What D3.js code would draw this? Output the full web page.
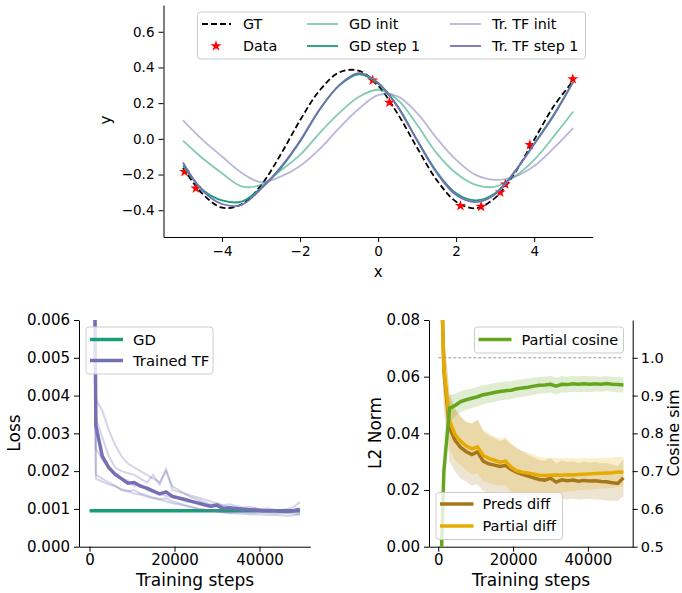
<!DOCTYPE html>
<html>
<head>
<meta charset="utf-8">
<script src="https://cdn.jsdelivr.net/npm/d3@7"></script>
<style>
  body { margin: 0; background: #fff; }
  svg { display: block; font-family: "DejaVu Sans", sans-serif; }
</style>
</head>
<body>
<script>
// ---- top panel: regression curves ----
const topX = [-5, -4.5, -4, -3.5, -3, -2.5, -2, -1.5, -1, -0.5, 0, 0.5, 1, 1.5, 2, 2.5, 3, 3.5, 4, 4.5, 5];
const gtY     = [-0.163, -0.308, -0.385, -0.367, -0.26, -0.089, 0.104, 0.271, 0.372, 0.382, 0.298, 0.141, -0.05, -0.23, -0.352, -0.389, -0.331, -0.192, -0.005, 0.182, 0.325];
const gdInit  = [-0.01, -0.109, -0.193, -0.266, -0.258, -0.178, -0.09, 0.032, 0.144, 0.234, 0.275, 0.219, 0.079, -0.08, -0.193, -0.258, -0.268, -0.212, -0.118, 0.013, 0.153];
const gdStep1 = [-0.15, -0.285, -0.345, -0.352, -0.275, -0.165, -0.015, 0.163, 0.298, 0.362, 0.31, 0.182, -0.006, -0.184, -0.305, -0.345, -0.305, -0.184, -0.028, 0.135, 0.322];
const tfInit  = [0.103, -0.006, -0.099, -0.19, -0.243, -0.212, -0.152, -0.058, 0.06, 0.167, 0.245, 0.238, 0.144, 0.004, -0.118, -0.202, -0.23, -0.212, -0.152, -0.052, 0.06];
const tfStep1 = [-0.133, -0.29, -0.365, -0.37, -0.28, -0.16, -0.01, 0.165, 0.3, 0.368, 0.315, 0.18, -0.01, -0.19, -0.315, -0.355, -0.31, -0.185, -0.03, 0.13, 0.318];
const dataX = [-4.96, -4.67, -0.14, 0.29, 2.11, 2.64, 3.13, 3.26, 3.89, 4.99];
const dataY = [-0.184, -0.277, 0.328, 0.204, -0.375, -0.38, -0.3, -0.255, -0.034, 0.335];
const topXTicks = [-4, -2, 0, 2, 4];
const topYTicks = [-0.4, -0.2, 0.0, 0.2, 0.4, 0.6];

// ---- bottom panels: training curves ----
const steps = [0, 1500, 3000, 4500, 6000, 7500, 9000, 10500, 12000, 13500, 15000, 16500, 18000, 19500, 21000, 22500, 24000,
  25500, 27000, 28500, 30000, 31500, 33000, 34500, 36000, 37500, 39000, 40500, 42000, 43500, 45000, 46500, 48000, 49500];
const gdLoss = 0.00095;
const tfLoss = [0.024, 0.0032, 0.0024, 0.0021, 0.00192, 0.0018, 0.00168, 0.0017, 0.0016, 0.00155, 0.00147, 0.0014, 0.00145, 0.00133,
  0.00129, 0.00125, 0.0012, 0.00116, 0.00111, 0.00107, 0.0011, 0.00101, 0.00103, 0.00101, 0.00099, 0.00098, 0.00097, 0.00096,
  0.00095, 0.00095, 0.00094, 0.00094, 0.00095, 0.00099];
const tfSeeds = [
  [0.03, 0.0039, 0.0036, 0.0031, 0.0027, 0.0024, 0.0022, 0.0021, 0.002, 0.0019, 0.0018, 0.0017, 0.002, 0.0016, 0.0015, 0.0014, 0.00135,
   0.0013, 0.00125, 0.0012, 0.00115, 0.0011, 0.00112, 0.00108, 0.00104, 0.00106, 0.00101, 0.00099, 0.00102, 0.00098, 0.00097, 0.001, 0.00105, 0.00118],
  [0.02, 0.0018, 0.00172, 0.00165, 0.0016, 0.00152, 0.00148, 0.0014, 0.00138, 0.00132, 0.00128, 0.00125, 0.0012, 0.00115, 0.00112,
   0.00108, 0.00104, 0.001, 0.00098, 0.00096, 0.00093, 0.0009, 0.00089, 0.00088, 0.00087, 0.00086, 0.00085, 0.00085, 0.00084, 0.00084, 0.00083, 0.00082, 0.00083, 0.00085],
  [0.025, 0.0026, 0.0023, 0.0021, 0.0019, 0.0018, 0.00175, 0.0016, 0.00165, 0.0015, 0.00145, 0.0014, 0.00135, 0.0013, 0.00128, 0.0012,
   0.00118, 0.00112, 0.0011, 0.00106, 0.00105, 0.001, 0.00099, 0.00098, 0.00101, 0.00097, 0.00095, 0.00094, 0.00092, 0.00093, 0.00091, 0.0009, 0.00092, 0.0009],
  [0.022, 0.0034, 0.0029, 0.0024, 0.0021, 0.002, 0.00195, 0.0019, 0.0018, 0.0017, 0.0019, 0.00165, 0.00205, 0.0015, 0.00145, 0.0014,
   0.0013, 0.00125, 0.00118, 0.00112, 0.00113, 0.00108, 0.00104, 0.001, 0.00103, 0.001, 0.00102, 0.00098, 0.00096, 0.00095, 0.00094, 0.00093, 0.00095, 0.00097],
  [0.02, 0.0019, 0.0018, 0.0017, 0.00162, 0.0015, 0.00146, 0.0015, 0.0014, 0.00136, 0.0013, 0.00126, 0.00128, 0.0012, 0.00115, 0.0011,
   0.00106, 0.00101, 0.00098, 0.00097, 0.00094, 0.00092, 0.0009, 0.00091, 0.00092, 0.0009, 0.00089, 0.00091, 0.0009, 0.00088, 0.00089, 0.0009, 0.00088, 0.00086]
];
const predsDiff = [0.137, 0.062, 0.042, 0.0375, 0.035, 0.0335, 0.0325, 0.0335, 0.0302, 0.0292, 0.0288, 0.0283, 0.0287, 0.0272, 0.0262,
  0.0255, 0.0249, 0.0243, 0.0237, 0.0235, 0.0242, 0.0228, 0.0236, 0.0233, 0.0235, 0.0231, 0.0234, 0.0232, 0.0233, 0.023, 0.0229, 0.0226, 0.0223, 0.0243];
const predsStd = [0.03, 0.014, 0.012, 0.011, 0.011, 0.0105, 0.011, 0.0115, 0.0105, 0.01, 0.0095, 0.009, 0.0092, 0.0088, 0.0085, 0.0082,
  0.0075, 0.0072, 0.007, 0.0068, 0.0072, 0.0065, 0.0068, 0.0066, 0.0066, 0.0064, 0.0066, 0.0064, 0.0066, 0.0064, 0.0066, 0.0064, 0.0062, 0.0065];
const partialDiff = [0.137, 0.063, 0.0445, 0.0395, 0.0372, 0.0355, 0.0345, 0.0352, 0.0322, 0.0312, 0.0305, 0.0298, 0.0302, 0.028, 0.0268,
  0.0263, 0.026, 0.0256, 0.0252, 0.0251, 0.0252, 0.0253, 0.0252, 0.0254, 0.0253, 0.0255, 0.0256, 0.0257, 0.0258, 0.0259, 0.026, 0.0261, 0.0264, 0.0263];
const partialStd = [0.025, 0.012, 0.01, 0.009, 0.0085, 0.0085, 0.009, 0.0095, 0.009, 0.0088, 0.0085, 0.0082, 0.0085, 0.0085, 0.008, 0.0075,
  0.0072, 0.0068, 0.0065, 0.0062, 0.0062, 0.006, 0.006, 0.0058, 0.0058, 0.0056, 0.0056, 0.0055, 0.0055, 0.0054, 0.0054, 0.0054, 0.0053, 0.0052];
const partialCos = [0.2, 0.7, 0.866, 0.874, 0.884, 0.889, 0.893, 0.897, 0.902, 0.905, 0.908, 0.911, 0.913, 0.914, 0.918, 0.92, 0.922,
  0.925, 0.927, 0.928, 0.93, 0.925, 0.93, 0.929, 0.931, 0.93, 0.931, 0.93, 0.931, 0.93, 0.932, 0.93, 0.929, 0.928];
const cosStd = [0.05, 0.04, 0.035, 0.03, 0.028, 0.027, 0.026, 0.026, 0.025, 0.025, 0.025, 0.024, 0.024, 0.024, 0.023, 0.023, 0.023,
  0.023, 0.022, 0.022, 0.022, 0.022, 0.022, 0.021, 0.021, 0.021, 0.021, 0.021, 0.02, 0.02, 0.02, 0.02, 0.02, 0.02];
const stepTicks = [0, 20000, 40000];
const lossTicks = [0, 0.001, 0.002, 0.003, 0.004, 0.005, 0.006];
const normTicks = [0, 0.02, 0.04, 0.06, 0.08];
const cosTicks = [0.5, 0.6, 0.7, 0.8, 0.9, 1.0];

const C = { teal: '#1b9e77', purple: '#7570b3', green: '#66a61e', brown: '#a6761d', yellow: '#e6ab02', red: '#ff0000' };
const FONT = '"DejaVu Sans", sans-serif';

const svg = d3.select('body').append('svg').attr('width', 682).attr('height', 593);

function styleAxis (g, fs) {
  g.attr('font-family', FONT).attr('font-size', fs);
  g.selectAll('.domain').attr('stroke', '#000').attr('stroke-width', 1);
  g.selectAll('.tick line').attr('stroke', '#000').attr('stroke-width', 1);
  g.selectAll('.tick text').attr('fill', '#000');
  return g;
}

function legendBox (g, x, y, w, h) {
  g.append('rect').attr('x', x).attr('y', y).attr('width', w).attr('height', h).attr('rx', 3)
    .attr('fill', '#fff').attr('fill-opacity', 0.8).attr('stroke', '#ccc').attr('stroke-width', 1);
}

function legendLine (g, x0, x1, y, tx, label, color, lw, opts = {}) {
  g.append('line').attr('x1', x0).attr('x2', x1).attr('y1', y).attr('y2', y)
    .attr('stroke', color).attr('stroke-width', lw)
    .attr('stroke-opacity', opts.opacity || 1)
    .attr('stroke-dasharray', opts.dash || null);
  g.append('text').attr('x', tx).attr('y', y).attr('dy', '0.35em')
    .attr('font-size', opts.fs).attr('fill', '#000').text(label);
}

// ================= TOP PANEL =================
{
  const x = d3.scaleLinear().domain([-5.5, 5.5]).range([163.5, 592.7]);
  const y = d3.scaleLinear().domain([-0.55, 0.75]).range([237, 5]);
  const g = svg.append('g');

  styleAxis(g.append('g').attr('transform', 'translate(0,237)')
    .call(d3.axisBottom(x).tickValues(topXTicks).tickFormat(d3.format('d')).tickSize(5).tickSizeOuter(0).tickPadding(4)), 13.5);
  styleAxis(g.append('g').attr('transform', 'translate(163.5,0)')
    .call(d3.axisLeft(y).tickValues(topYTicks).tickFormat(d3.format('.1f')).tickSize(5).tickSizeOuter(0).tickPadding(4)), 13.5);

  g.append('text').attr('x', x(0)).attr('y', 277).attr('text-anchor', 'middle')
    .attr('font-size', 15).text('x');
  g.append('text').attr('transform', 'translate(111,120) rotate(-90)').attr('text-anchor', 'middle')
    .attr('font-size', 15).text('y');

  const line = vals => d3.line().x((d, i) => x(topX[i])).y(d => y(d)).curve(d3.curveCatmullRom.alpha(0.5))(vals);

  g.append('path').attr('d', line(gtY)).attr('fill', 'none').attr('stroke', '#000')
    .attr('stroke-width', 1.8).attr('stroke-dasharray', '6,3');

  g.selectAll('.star').data(dataX).join('path').attr('class', 'star')
    .attr('transform', (d, i) => `translate(${x(d)},${y(dataY[i])})`)
    .attr('d', d3.symbol(d3.symbolStar, 38)).attr('fill', C.red);

  const series = [
    [gdInit, C.teal, 0.55],
    [gdStep1, C.teal, 1],
    [tfInit, C.purple, 0.5],
    [tfStep1, C.purple, 1]
  ];
  series.forEach(([vals, col, op]) => {
    g.append('path').attr('d', line(vals)).attr('fill', 'none').attr('stroke', col)
      .attr('stroke-opacity', op).attr('stroke-width', 1.8);
  });

  // legend
  const lg = g.append('g').attr('font-family', FONT);
  legendBox(lg, 197.5, 12, 388, 47);
  legendLine(lg, 202, 231, 24, 243, 'GT', '#000', 1.8, { dash: '6,3', fs: 14.3 });
  lg.append('path').attr('transform', 'translate(216,46)').attr('d', d3.symbol(d3.symbolStar, 38)).attr('fill', C.red);
  lg.append('text').attr('x', 243).attr('y', 46).attr('dy', '0.35em').attr('font-size', 14.3).text('Data');
  legendLine(lg, 307, 338, 24, 349, 'GD init', C.teal, 1.8, { opacity: 0.55, fs: 14.3 });
  legendLine(lg, 307, 338, 46, 349, 'GD step 1', C.teal, 1.8, { fs: 14.3 });
  legendLine(lg, 450, 481, 24, 492, 'Tr. TF init', C.purple, 1.8, { opacity: 0.5, fs: 14.3 });
  legendLine(lg, 450, 481, 46, 492, 'Tr. TF step 1', C.purple, 1.8, { fs: 14.3 });
}

// ================= BOTTOM LEFT =================
{
  const x = d3.scaleLinear().domain([-2475, 51975]).range([79, 310.4]);
  const y = d3.scaleLinear().domain([0, 0.006]).range([546.7, 320]);
  const g = svg.append('g');

  g.append('clipPath').attr('id', 'clipL').append('rect')
    .attr('x', 79).attr('y', 320).attr('width', 231.4).attr('height', 226.7);

  styleAxis(g.append('g').attr('transform', 'translate(0,546.7)')
    .call(d3.axisBottom(x).tickValues(stepTicks).tickFormat(d3.format('d')).tickSize(5).tickSizeOuter(0).tickPadding(3)), 15);
  styleAxis(g.append('g').attr('transform', 'translate(79,0)')
    .call(d3.axisLeft(y).tickValues(lossTicks).tickFormat(d3.format('.3f')).tickSize(5).tickSizeOuter(0).tickPadding(4)), 15);

  g.append('text').attr('x', 195).attr('y', 586).attr('text-anchor', 'middle').attr('font-size', 17).text('Training steps');
  g.append('text').attr('transform', 'translate(20,433) rotate(-90)').attr('text-anchor', 'middle')
    .attr('font-size', 17).text('Loss');

  const plot = g.append('g').attr('clip-path', 'url(#clipL)');
  const line = d3.line().x((d, i) => x(steps[i])).y(d => y(d));

  plot.append('line').attr('x1', x(steps[0])).attr('x2', x(steps[steps.length - 1]))
    .attr('y1', y(gdLoss)).attr('y2', y(gdLoss)).attr('stroke', C.teal).attr('stroke-width', 3.5);
  tfSeeds.forEach(s => {
    plot.append('path').attr('d', line(s)).attr('fill', 'none').attr('stroke', C.purple)
      .attr('stroke-opacity', 0.3).attr('stroke-width', 2);
  });
  plot.append('path').attr('d', line(tfLoss)).attr('fill', 'none').attr('stroke', C.purple).attr('stroke-width', 3.5);

  const lg = g.append('g').attr('font-family', FONT);
  legendBox(lg, 86, 327, 127, 47);
  legendLine(lg, 90, 123, 339.5, 133, 'GD', C.teal, 3.5, { fs: 14.8 });
  legendLine(lg, 90, 123, 360.5, 133, 'Trained TF', C.purple, 3.5, { fs: 14.8 });
}

// ================= BOTTOM RIGHT =================
{
  const x = d3.scaleLinear().domain([-2475, 51975]).range([429, 632.7]);
  const yL = d3.scaleLinear().domain([0, 0.08]).range([546.7, 320]);
  const yR = d3.scaleLinear().domain([0.5, 1.1]).range([546.7, 320]);
  const g = svg.append('g');

  g.append('clipPath').attr('id', 'clipR').append('rect')
    .attr('x', 429).attr('y', 320).attr('width', 203.7).attr('height', 226.7);

  styleAxis(g.append('g').attr('transform', 'translate(0,546.7)')
    .call(d3.axisBottom(x).tickValues(stepTicks).tickFormat(d3.format('d')).tickSize(5).tickSizeOuter(0).tickPadding(3)), 15);
  styleAxis(g.append('g').attr('transform', 'translate(429,0)')
    .call(d3.axisLeft(yL).tickValues(normTicks).tickFormat(d3.format('.2f')).tickSize(5).tickSizeOuter(0).tickPadding(4)), 15);
  styleAxis(g.append('g').attr('transform', 'translate(632.7,0)')
    .call(d3.axisRight(yR).tickValues(cosTicks).tickFormat(d3.format('.1f')).tickSize(5).tickSizeOuter(0).tickPadding(3)), 14.5);

  g.append('text').attr('x', 531).attr('y', 586).attr('text-anchor', 'middle').attr('font-size', 17).text('Training steps');
  g.append('text').attr('transform', 'translate(381,433) rotate(-90)').attr('text-anchor', 'middle')
    .attr('font-size', 17).text('L2 Norm');
  g.append('text').attr('transform', 'translate(678.5,433) rotate(-90)').attr('text-anchor', 'middle')
    .attr('font-size', 16).text('Cosine sim');

  const plot = g.append('g').attr('clip-path', 'url(#clipR)');
  const bandL = (m, s) => d3.area().x((d, i) => x(steps[i]))
    .y0((d, i) => yL(m[i] - s[i])).y1((d, i) => yL(m[i] + s[i]))(m);
  const lineL = d3.line().x((d, i) => x(steps[i])).y(d => yL(d));

  plot.append('path').attr('d', bandL(predsDiff, predsStd)).attr('fill', C.brown).attr('fill-opacity', 0.2);
  plot.append('path').attr('d', bandL(partialDiff, partialStd)).attr('fill', C.yellow).attr('fill-opacity', 0.2);
  plot.append('path').attr('d', lineL(predsDiff)).attr('fill', 'none').attr('stroke', C.brown).attr('stroke-width', 3.5);
  plot.append('path').attr('d', lineL(partialDiff)).attr('fill', 'none').attr('stroke', C.yellow).attr('stroke-width', 3.5);

  // twin axis: cosine
  plot.append('line').attr('x1', x(steps[0])).attr('x2', x(steps[steps.length - 1]))
    .attr('y1', yR(1)).attr('y2', yR(1)).attr('stroke', '#999').attr('stroke-width', 1).attr('stroke-dasharray', '3,2');
  plot.append('path').attr('d', d3.area().x((d, i) => x(steps[i]))
      .y0((d, i) => yR(d - cosStd[i])).y1((d, i) => yR(d + cosStd[i]))(partialCos))
    .attr('fill', C.green).attr('fill-opacity', 0.2);
  plot.append('path').attr('d', d3.line().x((d, i) => x(steps[i])).y(d => yR(d))(partialCos))
    .attr('fill', 'none').attr('stroke', C.green).attr('stroke-width', 3.5);

  const lg = g.append('g').attr('font-family', FONT);
  legendBox(lg, 474.5, 327, 149, 26);
  legendLine(lg, 478.5, 511.5, 339.5, 521.5, 'Partial cosine', C.green, 3.5, { fs: 14.5 });
  legendBox(lg, 436, 492.5, 126.5, 47);
  legendLine(lg, 440, 473.5, 504, 482.5, 'Preds diff', C.brown, 3.5, { fs: 14.5 });
  legendLine(lg, 440, 473.5, 526, 482.5, 'Partial diff', C.yellow, 3.5, { fs: 14.5 });
}
</script>
</body>
</html>
